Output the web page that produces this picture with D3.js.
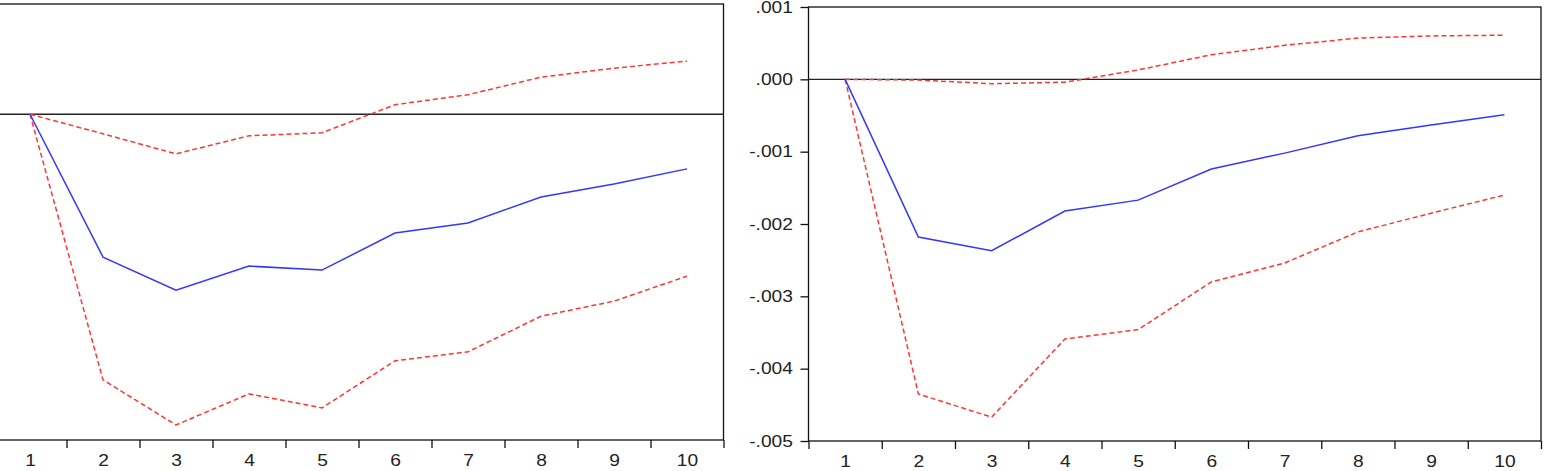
<!DOCTYPE html>
<html>
<head>
<meta charset="utf-8">
<script src="https://cdn.jsdelivr.net/npm/d3@7"></script>
<style>
  body { margin: 0; background: #fff; }
  svg { display: block; }
</style>
</head>
<body>
<svg id="chart"></svg>
<script>
// periods on the x axis
const periods = [1, 2, 3, 4, 5, 6, 7, 8, 9, 10];

// left panel: response and +/- 2 s.e. bands
const leftResp  = [0, -0.00285, -0.00351, -0.00303, -0.00311, -0.00237, -0.00217, -0.00165, -0.00139, -0.00109];
const leftUpper = [0, -0.00039, -0.00079, -0.00043, -0.00037, 0.00019, 0.00039, 0.00074, 0.00092, 0.00106];
const leftLower = [0, -0.0053, -0.0062, -0.00558, -0.00586, -0.00492, -0.00474, -0.00403, -0.00373, -0.00323];

// right panel
const rightResp  = [0, -0.00218, -0.00237, -0.00182, -0.00167, -0.00124, -0.00102, -0.00078, -0.00063, -0.00049];
const rightUpper = [0, -0.00001, -0.00006, -0.00004, 0.00013, 0.00034, 0.00047, 0.00057, 0.0006, 0.00061];
const rightLower = [0, -0.00435, -0.00467, -0.00359, -0.00346, -0.0028, -0.00254, -0.00211, -0.00185, -0.0016];

const rightTicks = [0.001, 0, -0.001, -0.002, -0.003, -0.004, -0.005];

const width = 1546, height = 471;
const textStretch = 1.2; // labels in the picture are a bit wide

const svg = d3.select("#chart")
  .attr("width", width)
  .attr("height", height)
  .attr("viewBox", [0, 0, width, height])
  .style("font", "16px 'Liberation Sans', Arial, sans-serif");

function panel(left, right, top, bottom, yDomain, resp, upper, lower, yTicks) {
  const x = d3.scaleLinear().domain([0.5, 10.5]).range([left, right]);
  const y = d3.scaleLinear().domain(yDomain).range([bottom, top]);

  const g = svg.append("g");

  // frame
  g.append("rect")
    .attr("x", left).attr("y", top)
    .attr("width", right - left).attr("height", bottom - top)
    .attr("fill", "none")
    .attr("stroke", "#111")
    .attr("stroke-width", 1.3);

  // zero line
  g.append("line")
    .attr("x1", left).attr("x2", right)
    .attr("y1", y(0)).attr("y2", y(0))
    .attr("stroke", "#222")
    .attr("stroke-width", 1.3);

  // x tick marks between periods
  g.append("g")
    .attr("transform", `translate(0,${bottom})`)
    .call(d3.axisBottom(x).tickValues(d3.range(0.5, 11, 1)).tickSize(8).tickFormat(""))
    .call(a => a.select(".domain").remove())
    .call(a => a.selectAll("line").attr("stroke", "#111").attr("stroke-width", 1.3));

  // x labels at the periods
  g.append("g")
    .attr("transform", `translate(0,${bottom})`)
    .call(d3.axisBottom(x).tickValues(periods).tickSize(0).tickPadding(15).tickFormat(d3.format("d")))
    .call(a => a.select(".domain").remove())
    .call(a => a.selectAll("text")
      .attr("fill", "#222")
      .attr("transform", `scale(${textStretch},1)`)
      .style("font-size", "16px")
      .style("font-family", "'Liberation Sans', Arial, sans-serif"));

  if (yTicks) {
    g.append("g")
      .attr("transform", `translate(${left},0)`)
      .call(d3.axisLeft(y).tickValues(yTicks).tickSize(8).tickPadding(5)
        .tickFormat(d => d3.format(".3f")(d).replace("0.", ".").replace("−", "-")))
      .call(a => a.select(".domain").remove())
      .call(a => a.selectAll("line").attr("stroke", "#111").attr("stroke-width", 1.3))
      .call(a => a.selectAll("text")
        .attr("fill", "#222")
        .attr("transform", `scale(${textStretch},1)`)
        .style("font-size", "16px")
        .style("font-family", "'Liberation Sans', Arial, sans-serif"));
  }

  const line = d3.line()
    .x((d, i) => x(periods[i]))
    .y(d => y(d));

  g.append("path")
    .attr("d", line(upper))
    .attr("fill", "none")
    .attr("stroke", "#ff3535")
    .attr("stroke-width", 1.5)
    .attr("stroke-dasharray", "5,3");

  g.append("path")
    .attr("d", line(lower))
    .attr("fill", "none")
    .attr("stroke", "#ff3535")
    .attr("stroke-width", 1.5)
    .attr("stroke-dasharray", "5,3");

  g.append("path")
    .attr("d", line(resp))
    .attr("fill", "none")
    .attr("stroke", "#3535ff")
    .attr("stroke-width", 1.5);
}

panel(-6.5, 723.5, 4, 440, [-0.0065, 0.0022], leftResp, leftUpper, leftLower, null);
panel(808.5, 1541, 7, 441, [-0.005, 0.001], rightResp, rightUpper, rightLower, rightTicks);
</script>
</body>
</html>
